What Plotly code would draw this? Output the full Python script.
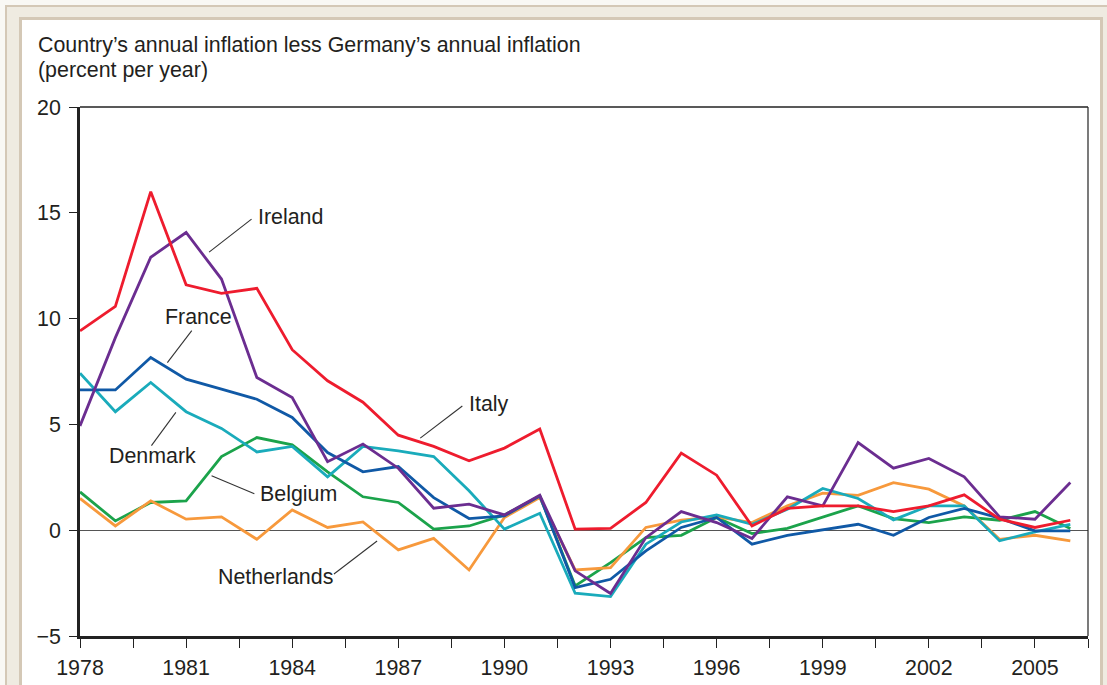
import plotly.graph_objects as go

years = list(range(1978, 2007))

italy = [9.42, 10.58, 16.0, 11.6, 11.19, 11.43, 8.53, 7.06, 6.05, 4.49, 3.96, 3.28, 3.88, 4.78,
         0.05, 0.09, 1.31, 3.64, 2.6, 0.2, 1.03, 1.15, 1.15, 0.88, 1.15, 1.67, 0.52, 0.13, 0.47]
ireland = [4.93, 9.1, 12.9, 14.07, 11.87, 7.22, 6.27, 3.24, 4.07, 2.93, 1.04, 1.23, 0.72, 1.65,
           -1.92, -2.99, -0.35, 0.88, 0.36, -0.39, 1.58, 1.15, 4.14, 2.93, 3.39, 2.52, 0.63, 0.52, 2.25]
france = [6.63, 6.63, 8.16, 7.14, 6.67, 6.19, 5.33, 3.67, 2.76, 3.01, 1.54, 0.55, 0.68, 1.62,
          -2.71, -2.32, -0.98, 0.13, 0.6, -0.66, -0.24, 0.02, 0.28, -0.24, 0.6, 1.03, 0.57, -0.03, -0.03]
denmark = [7.42, 5.6, 6.98, 5.6, 4.81, 3.70, 3.96, 2.52, 3.96, 3.75, 3.48, 1.86, 0.05, 0.8,
           -2.98, -3.14, -0.66, 0.39, 0.72, 0.28, 0.99, 1.97, 1.5, 0.49, 1.15, 1.15, -0.5, -0.08, 0.28]
belgium = [1.81, 0.44, 1.31, 1.39, 3.48, 4.38, 4.03, 2.76, 1.58, 1.31, 0.05, 0.2, 0.72, 1.62,
           -2.63, -1.53, -0.35, -0.24, 0.6, -0.16, 0.09, 0.63, 1.15, 0.55, 0.36, 0.63, 0.47, 0.88, 0.08]
netherlands = [1.5, 0.2, 1.39, 0.52, 0.63, -0.43, 0.96, 0.13, 0.39, -0.93, -0.39, -1.88, 0.6, 1.54,
               -1.88, -1.77, 0.13, 0.47, 0.63, 0.36, 1.15, 1.75, 1.65, 2.25, 1.94, 1.15, -0.43, -0.24, -0.5]

series_names = ["Belgium", "Netherlands", "Denmark", "France", "Ireland", "Italy"]
series_values = [belgium, netherlands, denmark, france, ireland, italy]
series_colors = ["#1ba34b", "#f7993c", "#1aabbb", "#1059a6", "#6b2d90", "#ee1c2e"]

x_tickvals = [1978 + 1.5 * k for k in range(20)]
x_ticktext = [str(int(v)) if k % 2 == 0 else "" for k, v in enumerate(x_tickvals)]
y_tickvals = [-5, 0, 5, 10, 15, 20]
y_ticktext = ["\u22125", "0", "5", "10", "15", "20"]

title_lines = ["Country\u2019s annual inflation less Germany\u2019s annual inflation",
               "(percent per year)"]

# label text, text anchor (x, y), leader line start (x, y), leader line end (x, y)
labels = [
    ("Ireland", (1982.98, 14.81), (1981.65, 13.14), (1982.85, 14.70)),
    ("France", (1980.35, 10.08), (1980.47, 7.92), (1981.16, 9.43)),
    ("Denmark", (1978.75, 3.49), (1980.02, 4.0), (1980.71, 5.57)),
    ("Belgium", (1983.04, 1.72), (1981.72, 2.57), (1982.93, 1.72)),
    ("Netherlands", (1981.85, -2.19), (1985.18, -2.07), (1986.40, -0.51)),
    ("Italy", (1988.95, 5.95), (1987.62, 4.35), (1988.81, 5.87)),
]

W, H = 1107, 685
ML, MR, MT, MB = 80, W - 1088, 107, H - 636
PW, PH = W - ML - MR, H - MT - MB


def px(x):
    return (x - ML) / PW


def py(y):
    return (H - MB - y) / PH


FONT = "Liberation Sans, Arial, Helvetica, sans-serif"
TXT = "#231f20"
FS = 21.4

fig = go.Figure()
for name, vals, col in zip(series_names, series_values, series_colors):
    fig.add_trace(go.Scatter(x=years, y=vals, mode="lines", name=name,
                             line=dict(color=col, width=2.8), hoverinfo="x+y+name"))

shapes = [
    # outer beige frame
    dict(type="rect", xref="paper", yref="paper", x0=px(6), x1=px(1130), y0=py(6), y1=py(720),
         fillcolor="#efebe1", line=dict(color="#d4c8b6", width=2), layer="below"),
    # inner white panel
    dict(type="rect", xref="paper", yref="paper", x0=px(20.5), x1=px(1101.5), y0=py(18.5), y1=py(720),
         fillcolor="#ffffff", line=dict(color="#d4c8b6", width=3), layer="below"),
    # top and right plot borders
    dict(type="line", xref="paper", yref="paper", x0=0, x1=1, y0=1, y1=1,
         line=dict(color="#222222", width=1.6)),
    dict(type="line", xref="paper", yref="paper", x0=1, x1=1, y0=0, y1=1,
         line=dict(color="#222222", width=1.2)),
]
annotations = []
for text, (tx, ty), (x0, y0), (x1, y1) in labels:
    shapes.append(dict(type="line", xref="x", yref="y", x0=x0, y0=y0, x1=x1, y1=y1,
                       line=dict(color="#333333", width=1.1)))
    annotations.append(dict(x=tx, y=ty, xref="x", yref="y", text=text, showarrow=False,
                            xanchor="left", yanchor="middle",
                            font=dict(family=FONT, size=FS, color=TXT)))

for i, line in enumerate(title_lines):
    annotations.append(dict(x=px(36), y=py(45 + 25 * i), xref="paper", yref="paper", text=line,
                            showarrow=False, xanchor="left", yanchor="middle",
                            font=dict(family=FONT, size=FS, color=TXT)))

fig.update_layout(
    width=W, height=H,
    margin=dict(l=ML, r=MR, t=MT, b=MB, pad=0, autoexpand=False),
    paper_bgcolor="#f9f8f4",
    plot_bgcolor="rgba(0,0,0,0)",
    showlegend=False,
    shapes=shapes,
    annotations=annotations,
    xaxis=dict(range=[1978, 2006.5], tickmode="array", tickvals=x_tickvals, ticktext=x_ticktext,
               ticks="outside", ticklen=9, tickwidth=1.3, tickcolor="#222222",
               ticklabelstandoff=1, automargin=False,
               showline=True, linecolor="#222222", linewidth=2.8,
               showgrid=False, zeroline=False,
               tickfont=dict(family=FONT, size=FS, color=TXT)),
    yaxis=dict(range=[-5, 20], tickmode="array", tickvals=y_tickvals, ticktext=y_ticktext,
               ticks="outside", ticklen=8, tickwidth=1.3, tickcolor="#222222",
               ticklabelstandoff=4, automargin=False,
               showline=True, linecolor="#222222", linewidth=2.8,
               showgrid=False, zeroline=True, zerolinecolor="#555555", zerolinewidth=1.3,
               tickfont=dict(family=FONT, size=FS, color=TXT)),
)

fig.write_html("out.html", config={"displayModeBar": False},
               post_script="document.body.style.margin='0px';document.body.style.overflow='hidden';")
